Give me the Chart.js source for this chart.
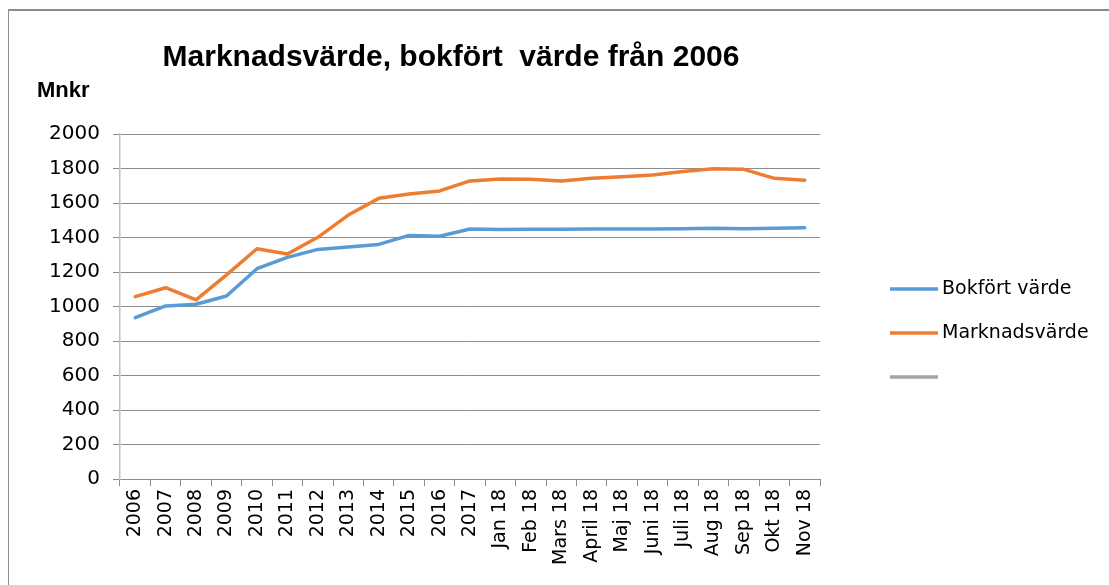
<!DOCTYPE html>
<html>
<head>
<meta charset="utf-8">
<script src="https://cdn.jsdelivr.net/npm/chart.js@4"></script>
<style>
  html, body { margin: 0; padding: 0; background: #fff; }
  #wrap { position: relative; width: 1109px; height: 585px; }
  #frame { position: absolute; left: 8px; top: 9px; right: 0; bottom: 0; border-top: 2px solid #8c8c8c; border-left: 1px solid #8c8c8c; }
  canvas { position: absolute; left: 0; top: 0; }
</style>
</head>
<body>
<div id="wrap">
  <div id="frame"></div>
  <canvas id="chart" width="1109" height="585"></canvas>
</div>
<script>
// categories
const labels = ['2006', '2007', '2008', '2009', '2010', '2011', '2012', '2013', '2014', '2015', '2016', '2017',
    'Jan 18', 'Feb 18', 'Mars 18', 'April 18', 'Maj 18', 'Juni 18', 'Juli 18', 'Aug 18', 'Sep 18', 'Okt 18', 'Nov 18'];

// series (Mnkr)
const bokfort = [935, 1003, 1013, 1061, 1219, 1285, 1331, 1345, 1360, 1412, 1407, 1449,
    1447, 1448, 1448, 1449, 1449, 1449, 1451, 1453, 1451, 1453, 1457];
const marknad = [1057, 1109, 1038, 1183, 1335, 1304, 1401, 1530, 1627, 1652, 1670, 1728,
    1739, 1737, 1728, 1743, 1752, 1762, 1782, 1799, 1795, 1743, 1732];

const yTicks = [0, 200, 400, 600, 800, 1000, 1200, 1400, 1600, 1800, 2000];

const BLUE = '#5B9BD5';
const ORANGE = '#ED7D31';
const GRAY = '#A5A5A5';

// Title, unit label and legend drawn by hand (legend sits apart from the plot)
const decorPlugin = {
    id: 'decor',
    afterDraw(chart) {
        const ctx = chart.ctx;
        ctx.save();
        ctx.fillStyle = '#000';
        ctx.textBaseline = 'alphabetic';
        ctx.textAlign = 'center';
        ctx.font = 'bold 30px "Liberation Sans", sans-serif';
        ctx.fillText('Marknadsvärde, bokfört  värde från 2006', 451, 66);

        ctx.textAlign = 'left';
        ctx.font = 'bold 22px "Liberation Sans", sans-serif';
        ctx.fillText('Mnkr', 37, 97);

        // legend
        ctx.font = '19px "DejaVu Sans", sans-serif';
        ctx.textBaseline = 'middle';
        chart.data.datasets.forEach((ds, i) => {
            const y = 289 + i * 44;
            ctx.strokeStyle = ds.borderColor;
            ctx.lineWidth = 3.5;
            ctx.beginPath();
            ctx.moveTo(890, y);
            ctx.lineTo(938, y);
            ctx.stroke();
            if (ds.label) ctx.fillText(ds.label, 942, y);
        });
        ctx.restore();
    }
};

new Chart(document.getElementById('chart'), {
    type: 'line',
    data: {
        labels: labels,
        datasets: [
            { label: 'Bokfört värde', data: bokfort, borderColor: BLUE, backgroundColor: BLUE },
            { label: 'Marknadsvärde', data: marknad, borderColor: ORANGE, backgroundColor: ORANGE },
            { label: '', data: [], borderColor: GRAY, backgroundColor: GRAY }
        ]
    },
    options: {
        responsive: false,
        animation: false,
        layout: { padding: { left: 0, right: 289, top: 134, bottom: 0 } },
        elements: {
            line: { borderWidth: 3.5, tension: 0, borderCapStyle: 'round', borderJoinStyle: 'round' },
            point: { radius: 0, hoverRadius: 0 }
        },
        plugins: {
            legend: { display: false },
            title: { display: false },
            tooltip: { enabled: false }
        },
        scales: {
            x: {
                offset: true,
                grid: { offset: true, drawOnChartArea: false, drawTicks: true, tickLength: 7, color: '#8c8c8c' },
                border: { color: '#8c8c8c' },
                ticks: {
                    color: '#000',
                    font: { family: '"DejaVu Sans"', size: 19 },
                    minRotation: 90, maxRotation: 90, autoSkip: false, padding: 3
                },
                afterFit(axis) { axis.height = 106; }
            },
            y: {
                min: 0, max: 2000,
                afterBuildTicks(axis) { axis.ticks = yTicks.map(v => ({ value: v })); },
                grid: { color: '#8c8c8c', tickLength: 7, lineWidth: 1 },
                border: { color: '#bfbfbf', width: 1.5 },
                ticks: {
                    color: '#000',
                    font: { family: '"DejaVu Sans"', size: 20 },
                    padding: 13,
                    callback: v => String(v)
                },
                afterFit(axis) { axis.width = 120; }
            }
        }
    },
    plugins: [decorPlugin]
});
</script>
</body>
</html>
